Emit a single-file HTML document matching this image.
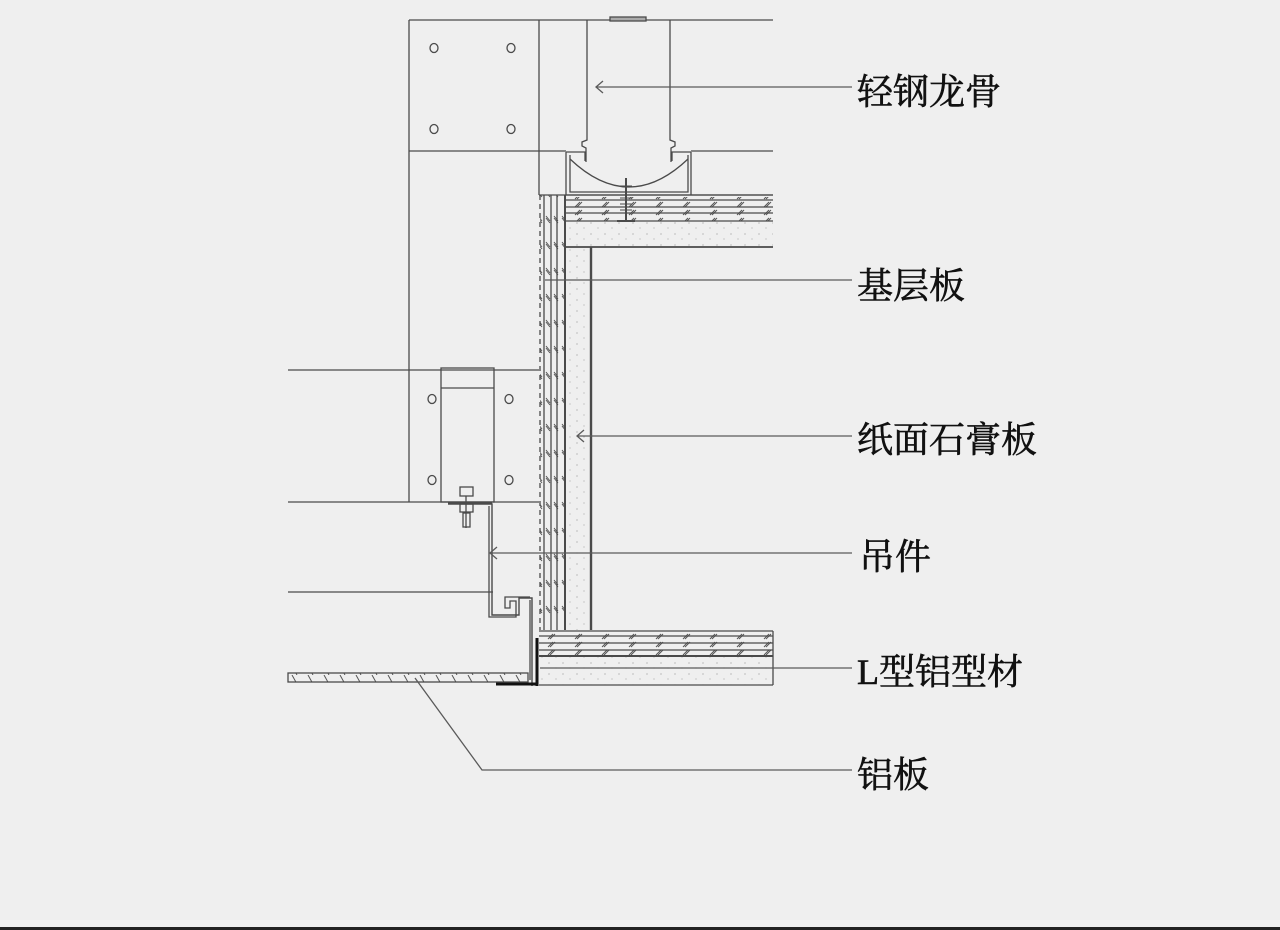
<!DOCTYPE html>
<html><head><meta charset="utf-8"><style>
html,body{margin:0;padding:0;background:#efefef;}
svg{display:block;}
text{font-family:"Liberation Serif","Noto Serif CJK SC",serif;font-size:36px;fill:#111;stroke:#111;stroke-width:0.6;}
</style></head><body>
<svg width="1280" height="930" viewBox="0 0 1280 930" xmlns="http://www.w3.org/2000/svg">
<defs>
<pattern id="dots" width="14" height="11" patternUnits="userSpaceOnUse">
<circle cx="3" cy="3" r="0.6" fill="#999"/><circle cx="10" cy="8" r="0.6" fill="#aaa"/>
</pattern>
<pattern id="slashH" width="27" height="8" patternUnits="userSpaceOnUse">
<path d="M8 7 L13 2 M10 7 L15 2" stroke="#555" stroke-width="1"/>
</pattern>
<pattern id="slashV" width="8" height="26" patternUnits="userSpaceOnUse">
<path d="M2 8 L6 13 M2 10 L6 15" stroke="#555" stroke-width="1"/>
</pattern>
<pattern id="alu" width="16" height="9" patternUnits="userSpaceOnUse">
<path d="M4 0 L9 9" stroke="#555" stroke-width="1"/>
</pattern>
</defs>
<rect width="1280" height="930" fill="#efefef"/>
<g stroke="#4a4a4a" stroke-width="1.3" fill="none">
<line x1="409" y1="20" x2="409" y2="502"/>
<line x1="409" y1="20" x2="773" y2="20"/>
<line x1="539" y1="20" x2="539" y2="195"/>
<line x1="409" y1="151" x2="566" y2="151"/>
<line x1="691" y1="151" x2="773" y2="151"/>
<line x1="288" y1="370" x2="539" y2="370"/>
<line x1="288" y1="502" x2="539" y2="502"/>
<line x1="288" y1="592" x2="493" y2="592"/>
<ellipse cx="434" cy="48" rx="4" ry="4.5"/><ellipse cx="511" cy="48" rx="4" ry="4.5"/>
<ellipse cx="434" cy="129" rx="4" ry="4.5"/><ellipse cx="511" cy="129" rx="4" ry="4.5"/>
<ellipse cx="432" cy="399" rx="4" ry="4.5"/><ellipse cx="509" cy="399" rx="4" ry="4.5"/>
<ellipse cx="432" cy="480" rx="4" ry="4.5"/><ellipse cx="509" cy="480" rx="4" ry="4.5"/>
<path d="M587 20 L587 140 L582 142 L582 146 L586 148 L586 162"/>
<path d="M670 20 L670 140 L675 142 L675 146 L671 148 L671 162"/>
<rect x="610" y="17" width="36" height="4" fill="#aaa"/>
<path d="M566 152 L566 195 M566 152 L585 152 L585 161 M691 152 L672 152 L672 161 M691 152 L691 195"/>
<path d="M570 155 L570 192 L688 192 L688 155"/>
<path d="M570 159 Q629 215 688 159"/>
<line x1="626" y1="178" x2="626" y2="222" stroke-width="2"/>
<path d="M620 186 L632 186 M620 192 L632 192 M620 198 L632 198 M620 204 L632 204 M620 210 L632 210" stroke-width="1"/>
<path d="M617 221 L635 221" stroke-width="2"/>
<rect x="566" y="197" width="207" height="24" fill="url(#slashH)" stroke="none"/>
<rect x="566" y="221" width="207" height="26" fill="url(#dots)" stroke="none"/>
<line x1="566" y1="195" x2="773" y2="195"/>
<line x1="566" y1="200" x2="773" y2="200"/>
<line x1="566" y1="207" x2="773" y2="207"/>
<line x1="566" y1="213" x2="773" y2="213"/>
<line x1="566" y1="221" x2="773" y2="221"/>
<line x1="566" y1="247" x2="773" y2="247" stroke-width="1.8"/>
<rect x="540" y="195" width="25" height="435" fill="url(#slashV)" stroke="none"/>
<rect x="566" y="247" width="25" height="383" fill="url(#dots)" stroke="none"/>
<line x1="539" y1="195" x2="773" y2="195"/>
<line x1="540" y1="195" x2="540" y2="630" stroke-dasharray="5 4"/>
<line x1="544" y1="195" x2="544" y2="630"/>
<line x1="551" y1="195" x2="551" y2="630"/>
<line x1="557" y1="195" x2="557" y2="630"/>
<line x1="565" y1="195" x2="565" y2="630" stroke-width="2"/>
<line x1="591" y1="247" x2="591" y2="630" stroke-width="2.4"/>
<rect x="539" y="632" width="234" height="24" fill="url(#slashH)" stroke="none"/>
<rect x="539" y="656" width="234" height="29" fill="url(#dots)" stroke="none"/>
<line x1="539" y1="631" x2="773" y2="631"/>
<line x1="539" y1="636" x2="773" y2="636"/>
<line x1="539" y1="643" x2="773" y2="643"/>
<line x1="539" y1="650" x2="773" y2="650"/>
<line x1="539" y1="656" x2="773" y2="656" stroke-width="2"/>
<line x1="539" y1="685" x2="773" y2="685"/>
<line x1="773" y1="631" x2="773" y2="685"/>
<rect x="441" y="368" width="53" height="134"/>
<line x1="441" y1="388" x2="494" y2="388"/>
<rect x="460" y="487" width="13" height="9"/>
<rect x="460" y="504" width="13" height="8"/>
<line x1="466" y1="496" x2="466" y2="528"/>
<rect x="463" y="513" width="7" height="14"/>
<path d="M448 504 L492 504 L492 615 L519 615 L519 598 L532 598 L532 686" stroke-width="1.4"/>
<path d="M489 506 L489 617 L516 617 L516 601 L510 601 L510 608 L505 608 L505 597 L530 597"/>
<line x1="448" y1="503" x2="492" y2="503" stroke-width="2.5"/>
<line x1="537" y1="638" x2="537" y2="686" stroke="#111" stroke-width="3"/>
<line x1="496" y1="684" x2="537" y2="684" stroke="#111" stroke-width="3"/>
<line x1="530" y1="600" x2="530" y2="680"/>
<rect x="288" y="673" width="240" height="9" fill="url(#alu)"/>
<g stroke="#5a5a5a" stroke-width="1.3">
<line x1="596" y1="87" x2="852" y2="87"/><path d="M603 81 L596 87 L603 93"/>
<line x1="545" y1="280" x2="852" y2="280"/>
<line x1="577" y1="436" x2="852" y2="436"/><path d="M584 430 L577 436 L584 442"/>
<line x1="490" y1="553" x2="852" y2="553"/><path d="M497 547 L490 553 L497 559"/>
<line x1="540" y1="668" x2="852" y2="668"/>
<path d="M415 678 L482 770 L852 770"/>
</g>
<line x1="0" y1="928.5" x2="1280" y2="928.5" stroke="#222" stroke-width="3"/>
</g>
<text x="857" y="104">轻钢龙骨</text>
<text x="857" y="298">基层板</text>
<text x="857" y="452">纸面石膏板</text>
<text x="859" y="569">吊件</text>
<text x="857" y="684">L型铝型材</text>
<text x="857" y="787">铝板</text>
</svg>
</body></html>
